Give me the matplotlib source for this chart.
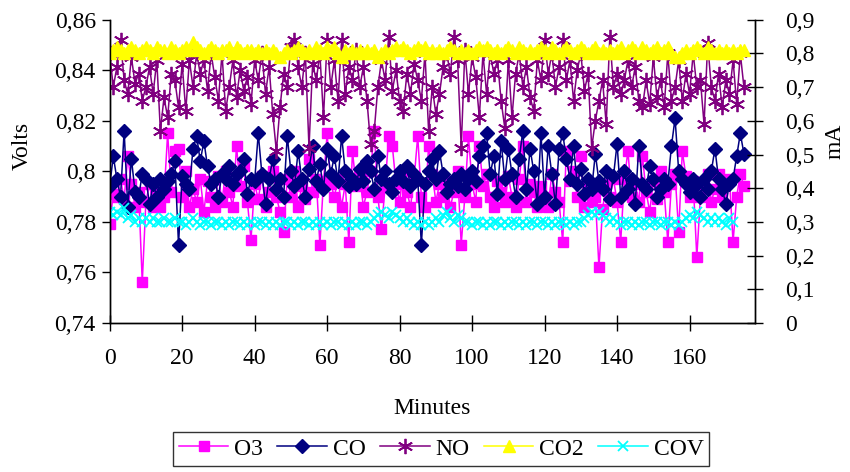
import matplotlib
matplotlib.use("Agg")
import matplotlib.pyplot as plt
from matplotlib.ticker import FuncFormatter, MultipleLocator

plt.rcParams['font.family'] = ['Liberation Serif', 'DejaVu Serif']

o3 = [0.779,0.791,0.790,0.797,0.789,0.806,0.795,0.786,0.792,0.756,
      0.788,0.795,0.786,0.792,0.786,0.790,0.815,0.792,0.808,0.809,
      0.790,0.800,0.786,0.793,0.788,0.797,0.784,0.796,0.790,0.786,
      0.798,0.788,0.800,0.792,0.786,0.810,0.794,0.802,0.788,0.773,
      0.795,0.789,0.798,0.786,0.792,0.800,0.790,0.784,0.776,0.797,
      0.790,0.800,0.786,0.794,0.789,0.805,0.792,0.797,0.771,0.796,
      0.815,0.795,0.790,0.797,0.786,0.795,0.772,0.808,0.794,0.798,
      0.786,0.792,0.800,0.816,0.790,0.777,0.794,0.814,0.810,0.795,
      0.788,0.800,0.792,0.786,0.797,0.814,0.790,0.786,0.810,0.799,
      0.788,0.795,0.790,0.796,0.786,0.792,0.800,0.771,0.790,0.814,
      0.795,0.788,0.810,0.794,0.799,0.790,0.786,0.796,0.792,0.788,
      0.798,0.790,0.786,0.797,0.810,0.788,0.795,0.792,0.786,0.794,
      0.790,0.786,0.799,0.792,0.788,0.772,0.808,0.796,0.800,0.790,
      0.806,0.786,0.795,0.788,0.790,0.762,0.785,0.795,0.790,0.797,
      0.788,0.772,0.797,0.808,0.790,0.795,0.788,0.806,0.792,0.784,
      0.796,0.789,0.800,0.792,0.772,0.795,0.799,0.776,0.808,0.798,
      0.790,0.796,0.766,0.790,0.795,0.799,0.788,0.793,0.799,0.790,
      0.795,0.797,0.772,0.790,0.799,0.794]

co = [0.794,0.806,0.797,0.790,0.816,0.786,0.805,0.792,0.790,0.799,
      0.797,0.787,0.795,0.790,0.797,0.793,0.796,0.799,0.804,0.771,
      0.798,0.795,0.793,0.809,0.814,0.804,0.812,0.802,0.795,0.797,
      0.790,0.799,0.797,0.802,0.795,0.799,0.800,0.805,0.791,0.797,
      0.796,0.815,0.799,0.787,0.797,0.805,0.793,0.797,0.790,0.814,
      0.800,0.794,0.808,0.797,0.790,0.801,0.810,0.796,0.803,0.793,
      0.809,0.799,0.806,0.796,0.814,0.800,0.794,0.797,0.795,0.801,
      0.796,0.804,0.800,0.793,0.806,0.797,0.800,0.795,0.792,0.797,
      0.800,0.796,0.802,0.794,0.799,0.797,0.771,0.795,0.800,0.805,
      0.797,0.808,0.799,0.792,0.795,0.797,0.794,0.799,0.793,0.797,
      0.800,0.796,0.806,0.810,0.815,0.799,0.806,0.791,0.812,0.797,
      0.809,0.799,0.790,0.805,0.816,0.793,0.809,0.800,0.787,0.815,
      0.790,0.810,0.799,0.787,0.809,0.815,0.805,0.797,0.810,0.795,
      0.801,0.791,0.797,0.793,0.807,0.796,0.793,0.800,0.789,0.798,
      0.811,0.790,0.800,0.793,0.797,0.787,0.810,0.795,0.793,0.802,
      0.797,0.790,0.793,0.797,0.795,0.810,0.821,0.800,0.797,0.795,
      0.792,0.797,0.795,0.790,0.797,0.793,0.800,0.809,0.797,0.793,
      0.787,0.795,0.797,0.806,0.815,0.807]

no = [0.80,0.70,0.76,0.84,0.72,0.68,0.79,0.71,0.74,0.66,
      0.70,0.76,0.68,0.78,0.57,0.67,0.61,0.74,0.72,0.64,
      0.77,0.63,0.78,0.70,0.80,0.74,0.78,0.69,0.80,0.73,
      0.66,0.80,0.63,0.70,0.78,0.67,0.75,0.69,0.73,0.65,
      0.78,0.72,0.80,0.68,0.76,0.62,0.51,0.64,0.74,0.70,
      0.82,0.84,0.76,0.70,0.80,0.52,0.77,0.72,0.80,0.61,
      0.84,0.70,0.78,0.66,0.84,0.68,0.76,0.72,0.81,0.70,
      0.76,0.66,0.53,0.57,0.70,0.78,0.72,0.85,0.69,0.75,
      0.66,0.63,0.74,0.68,0.77,0.72,0.66,0.80,0.57,0.70,
      0.62,0.68,0.76,0.80,0.74,0.85,0.78,0.52,0.81,0.68,
      0.79,0.73,0.61,0.80,0.68,0.80,0.74,0.78,0.66,0.58,
      0.78,0.61,0.74,0.80,0.70,0.76,0.67,0.63,0.78,0.72,
      0.84,0.74,0.80,0.70,0.76,0.84,0.72,0.78,0.66,0.75,
      0.80,0.69,0.74,0.52,0.60,0.66,0.72,0.59,0.85,0.70,
      0.74,0.68,0.72,0.78,0.70,0.76,0.66,0.64,0.72,0.65,
      0.79,0.67,0.72,0.64,0.80,0.66,0.70,0.78,0.66,0.74,
      0.68,0.80,0.70,0.72,0.59,0.83,0.70,0.66,0.74,0.64,
      0.72,0.68,0.78,0.65,0.80,0.70]

co2 = [0.80,0.81,0.82,0.81,0.80,0.81,0.82,0.81,0.80,0.81,
       0.82,0.81,0.80,0.82,0.81,0.81,0.80,0.82,0.81,0.80,
       0.81,0.82,0.81,0.835,0.82,0.81,0.80,0.81,0.82,0.81,
       0.80,0.81,0.81,0.82,0.80,0.82,0.81,0.80,0.81,0.81,
       0.80,0.81,0.80,0.81,0.80,0.81,0.80,0.79,0.80,0.81,
       0.80,0.81,0.82,0.81,0.80,0.81,0.80,0.82,0.81,0.80,
       0.82,0.81,0.82,0.80,0.79,0.81,0.80,0.81,0.80,0.81,
       0.80,0.81,0.80,0.81,0.79,0.80,0.81,0.80,0.81,0.82,
       0.81,0.82,0.81,0.80,0.81,0.82,0.81,0.82,0.80,0.81,
       0.80,0.81,0.80,0.81,0.82,0.81,0.80,0.81,0.80,0.81,
       0.80,0.81,0.82,0.81,0.82,0.81,0.80,0.81,0.80,0.81,
       0.82,0.81,0.80,0.82,0.81,0.80,0.81,0.80,0.81,0.82,
       0.81,0.80,0.82,0.81,0.80,0.81,0.82,0.81,0.80,0.81,
       0.82,0.81,0.80,0.81,0.82,0.80,0.81,0.80,0.81,0.80,
       0.81,0.82,0.80,0.81,0.82,0.81,0.80,0.82,0.81,0.80,
       0.81,0.82,0.80,0.81,0.82,0.80,0.79,0.79,0.80,0.81,
       0.80,0.81,0.82,0.81,0.80,0.82,0.81,0.80,0.81,0.80,
       0.81,0.80,0.81,0.80,0.81,0.81]

cov = [0.33,0.32,0.33,0.32,0.34,0.31,0.32,0.30,0.31,0.30,
       0.31,0.30,0.31,0.30,0.30,0.31,0.30,0.30,0.31,0.30,
       0.30,0.29,0.30,0.31,0.30,0.29,0.30,0.30,0.29,0.30,
       0.30,0.29,0.30,0.29,0.30,0.30,0.29,0.30,0.29,0.30,
       0.29,0.30,0.30,0.29,0.30,0.29,0.30,0.29,0.30,0.30,
       0.29,0.30,0.29,0.30,0.30,0.29,0.30,0.29,0.30,0.29,
       0.30,0.29,0.30,0.30,0.29,0.30,0.29,0.30,0.29,0.30,
       0.30,0.29,0.30,0.31,0.32,0.33,0.32,0.31,0.33,0.32,
       0.31,0.30,0.31,0.30,0.29,0.30,0.29,0.30,0.29,0.30,
       0.31,0.30,0.32,0.33,0.31,0.30,0.32,0.31,0.30,0.30,
       0.29,0.30,0.30,0.29,0.30,0.29,0.30,0.30,0.29,0.30,
       0.29,0.30,0.30,0.29,0.30,0.29,0.30,0.30,0.29,0.30,
       0.30,0.29,0.30,0.29,0.30,0.30,0.29,0.30,0.29,0.30,
       0.30,0.31,0.32,0.33,0.32,0.33,0.32,0.31,0.30,0.31,
       0.30,0.29,0.30,0.30,0.29,0.30,0.29,0.30,0.30,0.29,
       0.30,0.30,0.29,0.30,0.30,0.29,0.30,0.29,0.30,0.31,
       0.32,0.31,0.33,0.32,0.31,0.30,0.31,0.30,0.31,0.30,
       0.29,0.31,0.30]

minutes = list(range(len(o3)))
x_ticks = [0, 20, 40, 60, 80, 100, 120, 140, 160]

def comma(v, pos=None):
    s = f"{round(v, 3):g}"
    return s.replace('.', ',')

fig = plt.figure(figsize=(8.5, 4.72), dpi=100)
ax = fig.add_axes([0.129, 0.316, 0.759, 0.642])
ax2 = ax.twinx()

lw = 1.1
ax.plot(minutes, o3, color='#FF00FF', lw=lw, marker='s', ms=7.5, mec='#FF00FF', label='O3')
ax.plot(minutes, co, color='#000080', lw=lw, marker='D', ms=7.5, mec='#000080', label='CO')
ax2.plot(minutes[:len(no)], no, color='#800080', lw=lw, marker=(6, 2, 0), ms=11, mew=1.3, label='NO')
ax2.plot(minutes[:len(co2)], co2, color='#FFFF00', lw=lw, marker='^', ms=8.5, mec='#FFFF00', label='CO2')
ax2.plot(minutes[:len(cov)], cov, color='#00FFFF', lw=lw, marker='x', ms=7.5, mew=1.3, label='COV')

ax.set_xlim(0, 178)
ax.set_ylim(0.74, 0.86)
ax2.set_ylim(0, 0.9)
ax.set_xticks(x_ticks)
ax.yaxis.set_major_locator(MultipleLocator(0.02))
ax2.yaxis.set_major_locator(MultipleLocator(0.1))
ax.yaxis.set_major_formatter(FuncFormatter(comma))
ax2.yaxis.set_major_formatter(FuncFormatter(comma))

fs = 17
for a in (ax, ax2):
    a.spines['top'].set_visible(False)
    for s in a.spines.values():
        s.set_linewidth(1.0)
ax.tick_params(axis='y', direction='out', length=6, labelsize=fs, width=1, pad=4)
ax.tick_params(axis='x', direction='inout', length=12, labelsize=fs, width=1, pad=12)
ax2.tick_params(axis='y', direction='inout', length=12, labelsize=fs, width=1, pad=16)

ax.set_xlabel('Minutes', fontsize=fs, labelpad=21)
fig.text(0.026, 0.69, 'Volts', fontsize=fs, rotation=90, ha='center', va='center')
fig.text(0.982, 0.70, 'mA', fontsize=fs, rotation=90, ha='center', va='center')

h1, l1 = ax.get_legend_handles_labels()
h2, l2 = ax2.get_legend_handles_labels()
leg = fig.legend(h1 + h2, l1 + l2, loc='center', bbox_to_anchor=(0.519, 0.049), ncol=5,
                 fontsize=fs, frameon=True, fancybox=False, edgecolor='black',
                 handlelength=2.1, columnspacing=0.6, handletextpad=0.25, borderpad=0.25,
                 borderaxespad=0)
leg.get_frame().set_linewidth(1.0)

fig.savefig('out.png', dpi=100)
